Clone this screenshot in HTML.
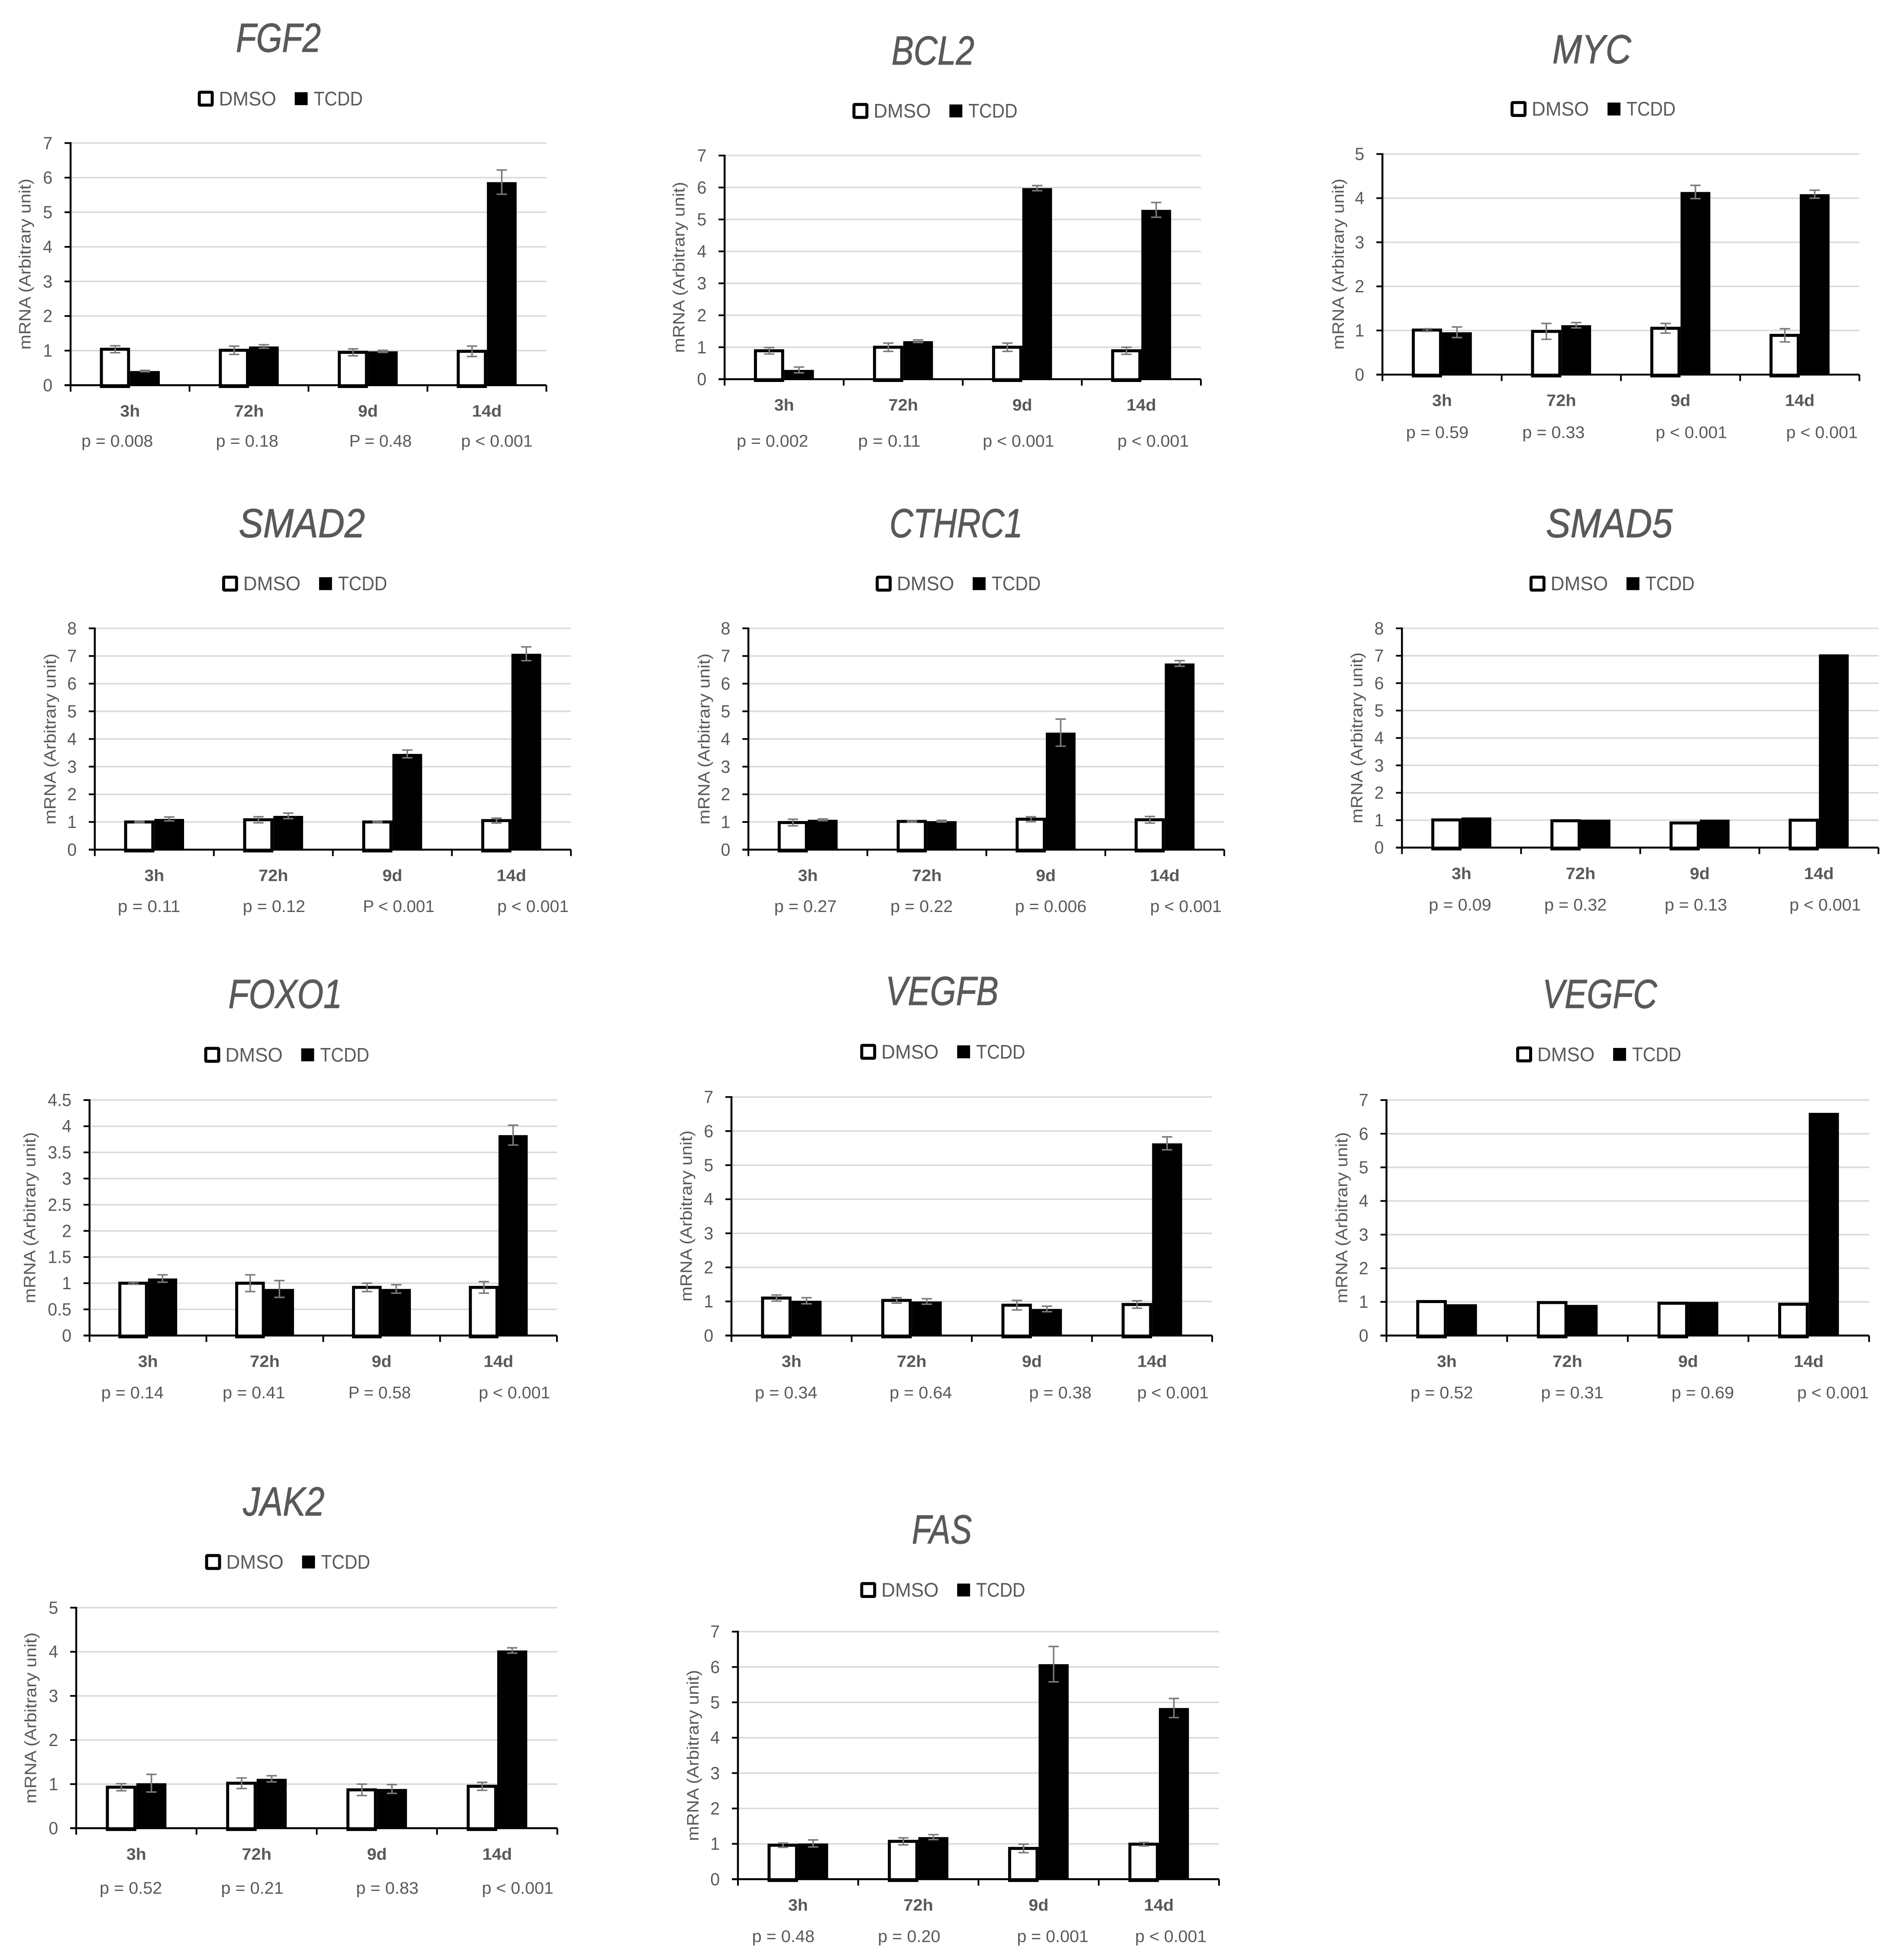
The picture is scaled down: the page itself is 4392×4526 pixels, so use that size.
<!DOCTYPE html>
<html lang="en">
<head>
<meta charset="utf-8">
<title>mRNA expression, DMSO vs TCDD</title>
<style>
html,body{margin:0;padding:0;background:#fff;}
svg{display:block;font-family:"Liberation Sans",sans-serif;}
text{fill:#595959;}
.title{font-style:italic;font-size:94px;stroke:#595959;stroke-width:1.2px;}
.legend-text{font-size:46px;}
.ytitle{font-size:38px;text-anchor:middle;}
.pval{font-size:39px;}
.tick{font-size:41px;text-anchor:end;}
.cat{font-size:38px;font-weight:bold;text-anchor:middle;}
</style>
</head>
<body>
<svg id="figure" xmlns="http://www.w3.org/2000/svg" width="4392" height="4526" viewBox="0 0 4392 4526">
<rect width="4392" height="4526" fill="#fff"/>

<g id="panel-fgf2" transform="matrix(.995 0 0 .995 0 0)">
<text class="title" x="547.5" y="120" textLength="197" lengthAdjust="spacingAndGlyphs">FGF2</text>
<g transform="translate(459,229)">
<rect x="3.5" y="-15" width="30" height="30" rx="2" fill="#fff" stroke="#000" stroke-width="7"/>
<text class="legend-text" x="49" y="15.5" textLength="133" lengthAdjust="spacingAndGlyphs">DMSO</text>
<rect x="225" y="-15" width="30" height="30" fill="#000"/>
<text class="legend-text" x="269" y="15.5" textLength="114" lengthAdjust="spacingAndGlyphs">TCDD</text>
</g>
<text class="ytitle" transform="translate(70.8,613) rotate(-90)" textLength="397" lengthAdjust="spacingAndGlyphs">mRNA (Arbitrary unit)</text>
<text class="pval" x="189" y="1036.5" textLength="166" lengthAdjust="spacingAndGlyphs">p = 0.008</text>
<text class="pval" x="501" y="1036.5" textLength="145" lengthAdjust="spacingAndGlyphs">p = 0.18</text>
<text class="pval" x="810.5" y="1036.5" textLength="145" lengthAdjust="spacingAndGlyphs">P = 0.48</text>
<text class="pval" x="1070" y="1036.5" textLength="166" lengthAdjust="spacingAndGlyphs">p &lt; 0.001</text>
</g>

<g id="panel-bcl2" transform="matrix(.995 0 0 .995 7.3 0)">
<text class="title" x="2061.8" y="149.5" textLength="192" lengthAdjust="spacingAndGlyphs">BCL2</text>
<g transform="translate(1971,257.5)">
<rect x="3.5" y="-15" width="30" height="30" rx="2" fill="#fff" stroke="#000" stroke-width="7"/>
<text class="legend-text" x="49" y="15.5" textLength="133" lengthAdjust="spacingAndGlyphs">DMSO</text>
<rect x="225" y="-15" width="30" height="30" fill="#000"/>
<text class="legend-text" x="269" y="15.5" textLength="114" lengthAdjust="spacingAndGlyphs">TCDD</text>
</g>
<text class="ytitle" transform="translate(1581,620.5) rotate(-90)" textLength="397" lengthAdjust="spacingAndGlyphs">mRNA (Arbitrary unit)</text>
<text class="pval" x="1702.4" y="1036.5" textLength="166" lengthAdjust="spacingAndGlyphs">p = 0.002</text>
<text class="pval" x="1984" y="1036.5" textLength="145" lengthAdjust="spacingAndGlyphs">p = 0.11</text>
<text class="pval" x="2273.3" y="1036.5" textLength="166" lengthAdjust="spacingAndGlyphs">p &lt; 0.001</text>
<text class="pval" x="2585.9" y="1036.5" textLength="166" lengthAdjust="spacingAndGlyphs">p &lt; 0.001</text>
</g>

<g id="panel-myc" transform="matrix(.995 0 0 .995 14.6 0)">
<text class="title" x="3588" y="146.7" textLength="183" lengthAdjust="spacingAndGlyphs">MYC</text>
<g transform="translate(3491,253)">
<rect x="3.5" y="-15" width="30" height="30" rx="2" fill="#fff" stroke="#000" stroke-width="7"/>
<text class="legend-text" x="49" y="15.5" textLength="133" lengthAdjust="spacingAndGlyphs">DMSO</text>
<rect x="225" y="-15" width="30" height="30" fill="#000"/>
<text class="legend-text" x="269" y="15.5" textLength="114" lengthAdjust="spacingAndGlyphs">TCDD</text>
</g>
<text class="ytitle" transform="translate(3104,613) rotate(-90)" textLength="397" lengthAdjust="spacingAndGlyphs">mRNA (Arbitrary unit)</text>
<text class="pval" x="3248.4" y="1016.8" textLength="145" lengthAdjust="spacingAndGlyphs">p = 0.59</text>
<text class="pval" x="3518.2" y="1016.8" textLength="145" lengthAdjust="spacingAndGlyphs">p = 0.33</text>
<text class="pval" x="3827.7" y="1016.8" textLength="166" lengthAdjust="spacingAndGlyphs">p &lt; 0.001</text>
<text class="pval" x="4130.6" y="1016.8" textLength="166" lengthAdjust="spacingAndGlyphs">p &lt; 0.001</text>
</g>

<g id="panel-smad2" transform="matrix(.995 0 0 .995 0 5.5)">
<text class="title" x="554" y="1241" textLength="293" lengthAdjust="spacingAndGlyphs">SMAD2</text>
<g transform="translate(515.5,1349)">
<rect x="3.5" y="-15" width="30" height="30" rx="2" fill="#fff" stroke="#000" stroke-width="7"/>
<text class="legend-text" x="49" y="15.5" textLength="133" lengthAdjust="spacingAndGlyphs">DMSO</text>
<rect x="225" y="-15" width="30" height="30" fill="#000"/>
<text class="legend-text" x="269" y="15.5" textLength="114" lengthAdjust="spacingAndGlyphs">TCDD</text>
</g>
<text class="ytitle" transform="translate(129,1709.5) rotate(-90)" textLength="397" lengthAdjust="spacingAndGlyphs">mRNA (Arbitrary unit)</text>
<text class="pval" x="273.3" y="2111" textLength="145" lengthAdjust="spacingAndGlyphs">p = 0.11</text>
<text class="pval" x="563.4" y="2111" textLength="145" lengthAdjust="spacingAndGlyphs">p = 0.12</text>
<text class="pval" x="842.3" y="2111" textLength="166" lengthAdjust="spacingAndGlyphs">P &lt; 0.001</text>
<text class="pval" x="1154" y="2111" textLength="166" lengthAdjust="spacingAndGlyphs">p &lt; 0.001</text>
</g>

<g id="panel-cthrc1" transform="matrix(.995 0 0 .995 7.3 5.5)">
<text class="title" x="2057" y="1241" textLength="309" lengthAdjust="spacingAndGlyphs">CTHRC1</text>
<g transform="translate(2025,1349)">
<rect x="3.5" y="-15" width="30" height="30" rx="2" fill="#fff" stroke="#000" stroke-width="7"/>
<text class="legend-text" x="49" y="15.5" textLength="133" lengthAdjust="spacingAndGlyphs">DMSO</text>
<rect x="225" y="-15" width="30" height="30" fill="#000"/>
<text class="legend-text" x="269" y="15.5" textLength="114" lengthAdjust="spacingAndGlyphs">TCDD</text>
</g>
<text class="ytitle" transform="translate(1639.5,1709.5) rotate(-90)" textLength="397" lengthAdjust="spacingAndGlyphs">mRNA (Arbitrary unit)</text>
<text class="pval" x="1789.4" y="2111" textLength="145" lengthAdjust="spacingAndGlyphs">p = 0.27</text>
<text class="pval" x="2059" y="2111" textLength="145" lengthAdjust="spacingAndGlyphs">p = 0.22</text>
<text class="pval" x="2348.2" y="2111" textLength="166" lengthAdjust="spacingAndGlyphs">p = 0.006</text>
<text class="pval" x="2661.7" y="2111" textLength="166" lengthAdjust="spacingAndGlyphs">p &lt; 0.001</text>
</g>

<g id="panel-smad5" transform="matrix(.995 0 0 .995 14.6 5.5)">
<text class="title" x="3573" y="1241" textLength="294" lengthAdjust="spacingAndGlyphs">SMAD5</text>
<g transform="translate(3535,1349)">
<rect x="3.5" y="-15" width="30" height="30" rx="2" fill="#fff" stroke="#000" stroke-width="7"/>
<text class="legend-text" x="49" y="15.5" textLength="133" lengthAdjust="spacingAndGlyphs">DMSO</text>
<rect x="225" y="-15" width="30" height="30" fill="#000"/>
<text class="legend-text" x="269" y="15.5" textLength="114" lengthAdjust="spacingAndGlyphs">TCDD</text>
</g>
<text class="ytitle" transform="translate(3147,1707) rotate(-90)" textLength="397" lengthAdjust="spacingAndGlyphs">mRNA (Arbitrary unit)</text>
<text class="pval" x="3301.2" y="2107.6" textLength="145" lengthAdjust="spacingAndGlyphs">p = 0.09</text>
<text class="pval" x="3569.2" y="2107.6" textLength="145" lengthAdjust="spacingAndGlyphs">p = 0.32</text>
<text class="pval" x="3848.5" y="2107.6" textLength="145" lengthAdjust="spacingAndGlyphs">p = 0.13</text>
<text class="pval" x="4138.2" y="2107.6" textLength="166" lengthAdjust="spacingAndGlyphs">p &lt; 0.001</text>
</g>

<g id="panel-foxo1" transform="matrix(.995 0 0 .995 0 11)">
<text class="title" x="530" y="2328" textLength="264" lengthAdjust="spacingAndGlyphs">FOXO1</text>
<g transform="translate(474,2437)">
<rect x="3.5" y="-15" width="30" height="30" rx="2" fill="#fff" stroke="#000" stroke-width="7"/>
<text class="legend-text" x="49" y="15.5" textLength="133" lengthAdjust="spacingAndGlyphs">DMSO</text>
<rect x="225" y="-15" width="30" height="30" fill="#000"/>
<text class="legend-text" x="269" y="15.5" textLength="114" lengthAdjust="spacingAndGlyphs">TCDD</text>
</g>
<text class="ytitle" transform="translate(81.8,2815) rotate(-90)" textLength="397" lengthAdjust="spacingAndGlyphs">mRNA (Arbitrary unit)</text>
<text class="pval" x="234.9" y="3234.4" textLength="145" lengthAdjust="spacingAndGlyphs">p = 0.14</text>
<text class="pval" x="516.6" y="3234.4" textLength="145" lengthAdjust="spacingAndGlyphs">p = 0.41</text>
<text class="pval" x="808.6" y="3234.4" textLength="145" lengthAdjust="spacingAndGlyphs">P = 0.58</text>
<text class="pval" x="1110.9" y="3234.4" textLength="166" lengthAdjust="spacingAndGlyphs">p &lt; 0.001</text>
</g>

<g id="panel-vegfb" transform="matrix(.995 0 0 .995 7.3 11)">
<text class="title" x="2048" y="2321" textLength="262" lengthAdjust="spacingAndGlyphs">VEGFB</text>
<g transform="translate(1989,2430)">
<rect x="3.5" y="-15" width="30" height="30" rx="2" fill="#fff" stroke="#000" stroke-width="7"/>
<text class="legend-text" x="49" y="15.5" textLength="133" lengthAdjust="spacingAndGlyphs">DMSO</text>
<rect x="225" y="-15" width="30" height="30" fill="#000"/>
<text class="legend-text" x="269" y="15.5" textLength="114" lengthAdjust="spacingAndGlyphs">TCDD</text>
</g>
<text class="ytitle" transform="translate(1598,2811) rotate(-90)" textLength="397" lengthAdjust="spacingAndGlyphs">mRNA (Arbitrary unit)</text>
<text class="pval" x="1744.5" y="3234.4" textLength="145" lengthAdjust="spacingAndGlyphs">p = 0.34</text>
<text class="pval" x="2057.1" y="3234.4" textLength="145" lengthAdjust="spacingAndGlyphs">p = 0.64</text>
<text class="pval" x="2380.9" y="3234.4" textLength="145" lengthAdjust="spacingAndGlyphs">p = 0.38</text>
<text class="pval" x="2631.7" y="3234.4" textLength="166" lengthAdjust="spacingAndGlyphs">p &lt; 0.001</text>
</g>

<g id="panel-vegfc" transform="matrix(.995 0 0 .995 14.6 11)">
<text class="title" x="3565" y="2328" textLength="266" lengthAdjust="spacingAndGlyphs">VEGFC</text>
<g transform="translate(3504,2436)">
<rect x="3.5" y="-15" width="30" height="30" rx="2" fill="#fff" stroke="#000" stroke-width="7"/>
<text class="legend-text" x="49" y="15.5" textLength="133" lengthAdjust="spacingAndGlyphs">DMSO</text>
<rect x="225" y="-15" width="30" height="30" fill="#000"/>
<text class="legend-text" x="269" y="15.5" textLength="114" lengthAdjust="spacingAndGlyphs">TCDD</text>
</g>
<text class="ytitle" transform="translate(3112,2815) rotate(-90)" textLength="397" lengthAdjust="spacingAndGlyphs">mRNA (Arbitrary unit)</text>
<text class="pval" x="3258.8" y="3234.4" textLength="145" lengthAdjust="spacingAndGlyphs">p = 0.52</text>
<text class="pval" x="3561.6" y="3234.4" textLength="145" lengthAdjust="spacingAndGlyphs">p = 0.31</text>
<text class="pval" x="3864.6" y="3234.4" textLength="145" lengthAdjust="spacingAndGlyphs">p = 0.69</text>
<text class="pval" x="4156.1" y="3234.4" textLength="166" lengthAdjust="spacingAndGlyphs">p &lt; 0.001</text>
</g>

<g id="panel-jak2" transform="matrix(.995 0 0 .995 0 17)">
<text class="title" x="564" y="3500" textLength="189" lengthAdjust="spacingAndGlyphs">JAK2</text>
<g transform="translate(476,3608)">
<rect x="3.5" y="-15" width="30" height="30" rx="2" fill="#fff" stroke="#000" stroke-width="7"/>
<text class="legend-text" x="49" y="15.5" textLength="133" lengthAdjust="spacingAndGlyphs">DMSO</text>
<rect x="225" y="-15" width="30" height="30" fill="#000"/>
<text class="legend-text" x="269" y="15.5" textLength="114" lengthAdjust="spacingAndGlyphs">TCDD</text>
</g>
<text class="ytitle" transform="translate(84,3970) rotate(-90)" textLength="397" lengthAdjust="spacingAndGlyphs">mRNA (Arbitrary unit)</text>
<text class="pval" x="231.2" y="4378" textLength="145" lengthAdjust="spacingAndGlyphs">p = 0.52</text>
<text class="pval" x="512.9" y="4378" textLength="145" lengthAdjust="spacingAndGlyphs">p = 0.21</text>
<text class="pval" x="826.4" y="4378" textLength="145" lengthAdjust="spacingAndGlyphs">p = 0.83</text>
<text class="pval" x="1118.4" y="4378" textLength="166" lengthAdjust="spacingAndGlyphs">p &lt; 0.001</text>
</g>

<g id="panel-fas" transform="matrix(.995 0 0 .995 7.3 17)">
<text class="title" x="2109" y="3564.6" textLength="139" lengthAdjust="spacingAndGlyphs">FAS</text>
<g transform="translate(1989,3673)">
<rect x="3.5" y="-15" width="30" height="30" rx="2" fill="#fff" stroke="#000" stroke-width="7"/>
<text class="legend-text" x="49" y="15.5" textLength="133" lengthAdjust="spacingAndGlyphs">DMSO</text>
<rect x="225" y="-15" width="30" height="30" fill="#000"/>
<text class="legend-text" x="269" y="15.5" textLength="114" lengthAdjust="spacingAndGlyphs">TCDD</text>
</g>
<text class="ytitle" transform="translate(1614,4057) rotate(-90)" textLength="397" lengthAdjust="spacingAndGlyphs">mRNA (Arbitrary unit)</text>
<text class="pval" x="1738" y="4490" textLength="145" lengthAdjust="spacingAndGlyphs">p = 0.48</text>
<text class="pval" x="2030" y="4490" textLength="145" lengthAdjust="spacingAndGlyphs">p = 0.20</text>
<text class="pval" x="2352.8" y="4490" textLength="166" lengthAdjust="spacingAndGlyphs">p = 0.001</text>
<text class="pval" x="2627" y="4490" textLength="166" lengthAdjust="spacingAndGlyphs">p &lt; 0.001</text>
</g>
</svg>

<script>
const categories = ['3h', '72h', '9d', '14d'];

const ticks0to7 = [0, 1, 2, 3, 4, 5, 6, 7];
const ticks0to8 = [0, 1, 2, 3, 4, 5, 6, 7, 8];
const ticks0to5 = [0, 1, 2, 3, 4, 5];
const ticksFoxo1 = [0, 0.5, 1, 1.5, 2, 2.5, 3, 3.5, 4, 4.5];

const fgf2Dmso = [1.04, 1.01, 0.95, 0.98];
const fgf2Tcdd = [0.41, 1.12, 0.98, 5.87];
const fgf2DmsoErr = [0.1, 0.12, 0.1, 0.15];
const fgf2TcddErr = [0.02, 0.05, 0.03, 0.35];

const bcl2Dmso = [0.89, 1.0, 1.0, 0.89];
const bcl2Tcdd = [0.29, 1.19, 5.98, 5.3];
const bcl2DmsoErr = [0.1, 0.13, 0.13, 0.11];
const bcl2TcddErr = [0.09, 0.04, 0.08, 0.23];

const mycDmso = [1.01, 0.98, 1.05, 0.89];
const mycTcdd = [0.96, 1.12, 4.14, 4.09];
const mycDmsoErr = [0.03, 0.18, 0.11, 0.15];
const mycTcddErr = [0.12, 0.06, 0.15, 0.09];

const smad2Dmso = [1.0, 1.08, 1.0, 1.05];
const smad2Tcdd = [1.11, 1.22, 3.46, 7.08];
const smad2DmsoErr = [0.03, 0.11, 0.03, 0.09];
const smad2TcddErr = [0.07, 0.1, 0.14, 0.25];

const cthrc1Dmso = [0.98, 1.02, 1.1, 1.08];
const cthrc1Tcdd = [1.08, 1.03, 4.23, 6.73];
const cthrc1DmsoErr = [0.12, 0.03, 0.09, 0.12];
const cthrc1TcddErr = [0.03, 0.03, 0.49, 0.1];

const smad5Dmso = [1.01, 0.98, 0.9, 1.0];
const smad5Tcdd = [1.1, 1.02, 1.02, 7.05];
const smad5DmsoErr = [0, 0, 0, 0];
const smad5TcddErr = [0, 0, 0, 0];

const foxo1Dmso = [1.0, 1.0, 0.92, 0.92];
const foxo1Tcdd = [1.09, 0.89, 0.89, 3.83];
const foxo1DmsoErr = [0.02, 0.16, 0.08, 0.11];
const foxo1TcddErr = [0.07, 0.16, 0.08, 0.19];

const vegfbDmso = [1.1, 1.03, 0.89, 0.91];
const vegfbTcdd = [1.02, 1.0, 0.78, 5.64];
const vegfbDmsoErr = [0.09, 0.08, 0.14, 0.11];
const vegfbTcddErr = [0.09, 0.08, 0.08, 0.19];

const vegfcDmso = [1.01, 0.98, 0.96, 0.93];
const vegfcTcdd = [0.93, 0.91, 1.0, 6.62];
const vegfcDmsoErr = [0, 0, 0, 0];
const vegfcTcddErr = [0, 0, 0, 0];

const jak2Dmso = [0.93, 1.02, 0.87, 0.95];
const jak2Tcdd = [1.02, 1.12, 0.89, 4.03];
const jak2DmsoErr = [0.08, 0.12, 0.13, 0.09];
const jak2TcddErr = [0.2, 0.07, 0.1, 0.06];

const fasDmso = [0.96, 1.07, 0.87, 0.99];
const fasTcdd = [1.01, 1.19, 6.08, 4.84];
const fasDmsoErr = [0.06, 0.1, 0.12, 0.05];
const fasTcddErr = [0.1, 0.07, 0.5, 0.27];

const panels = [
  {id:'panel-fgf2', x0:163.8, x1:1268, top:332, y0:894, ticks:ticks0to7, dmso:fgf2Dmso, tcdd:fgf2Tcdd, dmsoErr:fgf2DmsoErr, tcddErr:fgf2TcddErr},
  {id:'panel-bcl2', x0:1674.3, x1:2779.6, top:361, y0:880, ticks:ticks0to7, dmso:bcl2Dmso, tcdd:bcl2Tcdd, dmsoErr:bcl2DmsoErr, tcddErr:bcl2TcddErr},
  {id:'panel-myc', x0:3193.6, x1:4300.5, top:357.5, y0:869.4, ticks:ticks0to5, dmso:mycDmso, tcdd:mycTcdd, dmsoErr:mycDmsoErr, tcddErr:mycTcddErr},
  {id:'panel-smad2', x0:220, x1:1325, top:1452.7, y0:1966.3, ticks:ticks0to8, dmso:smad2Dmso, tcdd:smad2Tcdd, dmsoErr:smad2DmsoErr, tcddErr:smad2TcddErr},
  {id:'panel-cthrc1', x0:1729.5, x1:2833.9, top:1452.7, y0:1966.3, ticks:ticks0to8, dmso:cthrc1Dmso, tcdd:cthrc1Tcdd, dmsoErr:cthrc1DmsoErr, tcddErr:cthrc1TcddErr},
  {id:'panel-smad5', x0:3238.9, x1:4344.8, top:1452.7, y0:1961.6, ticks:ticks0to8, dmso:smad5Dmso, tcdd:smad5Tcdd, dmsoErr:smad5DmsoErr, tcddErr:smad5TcddErr},
  {id:'panel-foxo1', x0:207.8, x1:1292.5, top:2542, y0:3088.4, ticks:ticksFoxo1, dmso:foxo1Dmso, tcdd:foxo1Tcdd, dmsoErr:foxo1DmsoErr, tcddErr:foxo1TcddErr},
  {id:'panel-vegfb', x0:1690.2, x1:2805.8, top:2534.9, y0:3088.4, ticks:ticks0to7, dmso:vegfbDmso, tcdd:vegfbTcdd, dmsoErr:vegfbDmsoErr, tcddErr:vegfbTcddErr},
  {id:'panel-vegfc', x0:3203, x1:4323, top:2542, y0:3088.4, ticks:ticks0to7, dmso:vegfcDmso, tcdd:vegfcTcdd, dmsoErr:vegfcDmsoErr, tcddErr:vegfcTcddErr},
  {id:'panel-jak2', x0:176.9, x1:1293.4, top:3714, y0:4225.8, ticks:ticks0to5, dmso:jak2Dmso, tcdd:jak2Tcdd, dmsoErr:jak2DmsoErr, tcddErr:jak2TcddErr},
  {id:'panel-fas', x0:1705.2, x1:2821.7, top:3769.6, y0:4344.1, ticks:ticks0to7, dmso:fasDmso, tcdd:fasTcdd, dmsoErr:fasDmsoErr, tcddErr:fasTcddErr}
];

const SVG_NS = 'http://www.w3.org/2000/svg';

function create(parent, tag, attrs, text) {
  const node = document.createElementNS(SVG_NS, tag);
  for (const key in attrs) node.setAttribute(key, attrs[key]);
  if (text !== undefined) node.textContent = text;
  parent.appendChild(node);
  return node;
}

function yScale(p, v) {
  const max = p.ticks[p.ticks.length - 1];
  return p.y0 - (v / max) * (p.y0 - p.top);
}

function bandCenter(p, i) {
  return p.x0 + (i + 0.5) * (p.x1 - p.x0) / categories.length;
}

function bandEdge(p, i) {
  return p.x0 + i * (p.x1 - p.x0) / categories.length;
}

function barWidth(p) {
  return 0.25 * (p.x1 - p.x0) / categories.length;
}

function drawErrorBar(g, cx, value, err, p) {
  if (!err) return;
  const yHi = yScale(p, value + err);
  const yLo = yScale(p, value - err);
  const stem = create(g, 'line', {x1:cx, x2:cx, y1:yHi, y2:yLo, stroke:'#7a7a7a', 'stroke-width':3.5});
  
  
  const capTop = create(g, 'line', {x1:cx - 12, x2:cx + 12, y1:yHi, y2:yHi, stroke:'#7a7a7a', 'stroke-width':3.5});
  
  
  const capBottom = create(g, 'line', {x1:cx - 12, x2:cx + 12, y1:yLo, y2:yLo, stroke:'#7a7a7a', 'stroke-width':3.5});
  
  
}

function drawPanel(p) {
  const g = document.getElementById(p.id);

  p.ticks.forEach(function (t) {
    const y = yScale(p, t);
    if (t !== 0) {
      const grid = create(g, 'line', {x1:p.x0, x2:p.x1, y1:y, y2:y, stroke:'#d9d9d9', 'stroke-width':3.5});
      
      
    }
    const label = String(t);
    const tickText = create(g, 'text', {'class':'tick', x:p.x0 - 42, y:y + 14, textLength:label.length > 1 ? 55 : 22, lengthAdjust:'spacingAndGlyphs'}, label);
    
    
  });

  const w = barWidth(p);
  categories.forEach(function (cat, i) {
    const c = bandCenter(p, i);
    const sw = 7;
    const yD = yScale(p, p.dmso[i]);
    const barD = create(g, 'rect', {x:c - w + sw / 2 - 1, y:yD, width:w - sw + 1, height:p.y0 - yD + 3, fill:'#fff', stroke:'#000', 'stroke-width':sw});
    
    

    const yT = yScale(p, p.tcdd[i]);
    const barT = create(g, 'rect', {x:c, y:yT, width:w, height:p.y0 - yT, fill:'#000'});
    
    

    drawErrorBar(g, c - w / 2, p.dmso[i], p.dmsoErr[i], p);
    drawErrorBar(g, c + w / 2, p.tcdd[i], p.tcddErr[i], p);

    const catText = create(g, 'text', {'class':'cat', x:c, y:p.y0 + 73, textLength:cat.length > 2 ? 69 : 46, lengthAdjust:'spacingAndGlyphs'}, cat);
    
    
  });

  const yAxis = create(g, 'line', {x1:p.x0, x2:p.x0, y1:p.top - 2, y2:p.y0 + 2, stroke:'#000', 'stroke-width':4.5});
  
  

  const xAxis = create(g, 'line', {x1:p.x0 - 14, x2:p.x1, y1:p.y0, y2:p.y0, stroke:'#000', 'stroke-width':4.5});
  
  

  p.ticks.forEach(function (t) {
    const y = yScale(p, t);
    const mark = create(g, 'line', {x1:p.x0 - 14, x2:p.x0, y1:y, y2:y, stroke:'#000', 'stroke-width':4});
    
    
  });

  for (let i = 0; i <= categories.length; i++) {
    const x = bandEdge(p, i);
    const mark = create(g, 'line', {x1:x, x2:x, y1:p.y0, y2:p.y0 + 15, stroke:'#000', 'stroke-width':4});
    
    
  }
}

panels.forEach(drawPanel);
</script>
</body>
</html>
